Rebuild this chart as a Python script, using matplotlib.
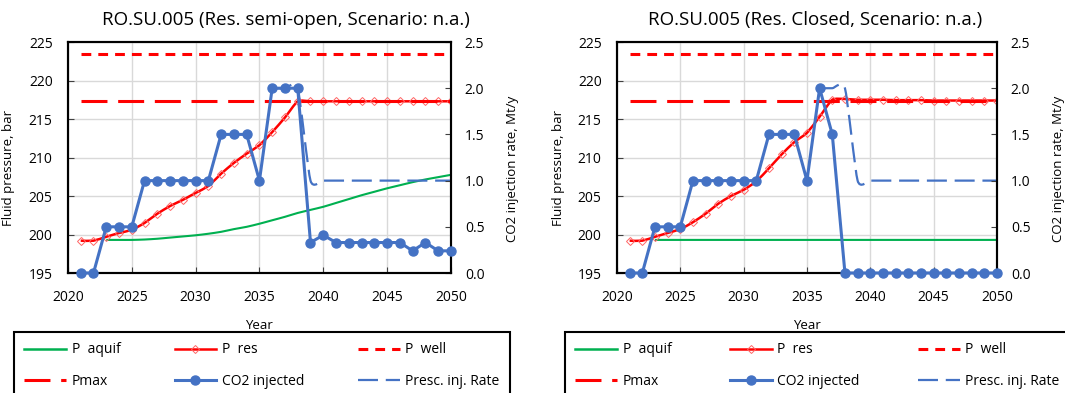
import numpy as np
import matplotlib
matplotlib.use("Agg")
import matplotlib.pyplot as plt
from matplotlib.path import Path
from matplotlib.patches import PathPatch
from matplotlib.lines import Line2D

plt.rcParams['font.family'] = ['Open Sans', 'DejaVu Sans']

# ---- data ----
years = list(range(2021, 2051))
aquif_years = list(range(2023, 2051))
presc_years = list(range(2036, 2051))

p_well = 223.5
p_max = 217.3

# semi-open reservoir
aquif_semi = [199.3, 199.3, 199.3, 199.35, 199.45, 199.6, 199.75, 199.9, 200.1, 200.35,
              200.7, 201.0, 201.4, 201.85, 202.3, 202.8, 203.2, 203.6, 204.1, 204.6,
              205.1, 205.55, 206.0, 206.4, 206.8, 207.15, 207.45, 207.75]
res_semi = [199.2, 199.2, 199.7, 200.2, 200.6, 201.5, 202.7, 203.7, 204.5, 205.4,
            206.3, 207.9, 209.3, 210.5, 211.6, 213.3, 215.2, 217.3, 217.3, 217.3,
            217.3, 217.3, 217.3, 217.3, 217.3, 217.3, 217.3, 217.3, 217.3, 217.3]
inj_semi = [0.0, 0.0, 0.5, 0.5, 0.5, 1.0, 1.0, 1.0, 1.0, 1.0,
            1.0, 1.5, 1.5, 1.5, 1.0, 2.0, 2.0, 2.0, 0.33, 0.41,
            0.33, 0.33, 0.33, 0.33, 0.33, 0.33, 0.24, 0.33, 0.24, 0.24]
presc_semi = [2.0, 2.0, 2.0, 1.0, 1.0, 1.0, 1.0, 1.0, 1.0, 1.0, 1.0, 1.0, 1.0, 1.0, 1.0]

# closed reservoir
aquif_closed = [199.3, 199.3, 199.3, 199.3, 199.3, 199.3, 199.3, 199.3, 199.3, 199.3,
                199.3, 199.3, 199.3, 199.3, 199.3, 199.3, 199.3, 199.3, 199.3, 199.3,
                199.3, 199.3, 199.3, 199.3, 199.3, 199.3, 199.3, 199.3]
res_closed = [199.2, 199.2, 199.7, 200.2, 200.7, 201.6, 202.7, 204.0, 205.0, 205.8,
              206.9, 208.6, 210.4, 212.0, 213.2, 215.3, 217.5, 217.6, 217.5, 217.5,
              217.5, 217.45, 217.45, 217.45, 217.4, 217.4, 217.4, 217.4, 217.4, 217.4]
inj_closed = [0.0, 0.0, 0.5, 0.5, 0.5, 1.0, 1.0, 1.0, 1.0, 1.0,
              1.0, 1.5, 1.5, 1.5, 1.0, 2.0, 1.5, 0.0, 0.0, 0.0,
              0.0, 0.0, 0.0, 0.0, 0.0, 0.0, 0.0, 0.0, 0.0, 0.0]
presc_closed = [2.0, 2.0, 2.0, 1.0, 1.0, 1.0, 1.0, 1.0, 1.0, 1.0, 1.0, 1.0, 1.0, 1.0, 1.0]

GREEN = '#00B050'
RED = '#FF0000'
BLUE = '#4472C4'


def smooth_path(x, y, k=0.1):
    # excel-like smoothed line: cubic bezier through every point
    x = np.asarray(x, float)
    y = np.asarray(y, float)
    n = len(x)
    verts = [(x[0], y[0])]
    codes = [Path.MOVETO]
    for i in range(n - 1):
        i0 = max(i - 1, 0)
        i3 = min(i + 2, n - 1)
        c1 = (x[i] + k * (x[i + 1] - x[i0]), y[i] + k * (y[i + 1] - y[i0]))
        c2 = (x[i + 1] - k * (x[i3] - x[i]), y[i + 1] - k * (y[i3] - y[i]))
        verts += [c1, c2, (x[i + 1], y[i + 1])]
        codes += [Path.CURVE4] * 3
    return Path(verts, codes)


def draw_panel(ax, title, aquif, res, inj, presc, title_x):
    ax2 = ax.twinx()

    ax.add_patch(PathPatch(smooth_path(aquif_years, aquif), fill=False, edgecolor=GREEN, lw=1.5))
    ax.add_patch(PathPatch(smooth_path(years, res), fill=False, edgecolor=RED, lw=1.8))
    ax.plot(years, res, ls='none', marker='D', ms=4.5, mfc='none', mec='#FF6666', mew=0.7)
    ax.plot(years, [p_well] * len(years), color=RED, lw=2.2, dashes=(3.2, 2.3))
    ax.plot(years, [p_max] * len(years), color=RED, lw=2.2, dashes=(8.5, 3.5))

    ax2.add_patch(PathPatch(smooth_path(presc_years, presc), fill=False, edgecolor=BLUE,
                            lw=1.6, linestyle=(0, (9, 3.5))))
    ax2.plot(years, inj, color=BLUE, lw=2.2, marker='o', ms=6.5, clip_on=False, zorder=5)

    ax.set_xlim(2020, 2050)
    ax.set_ylim(195, 225)
    ax2.set_ylim(0, 2.5)
    ax.set_xticks(range(2020, 2051, 5))
    ax.set_yticks(range(195, 226, 5))
    ax2.set_yticks(np.arange(0, 2.51, 0.5))
    ax2.set_yticklabels(['0.0', '0.5', '1.0', '1.5', '2.0', '2.5'])
    ax.grid(True, color='#D9D9D9', lw=1)
    ax.set_axisbelow(True)
    for sp in ax2.spines.values():
        sp.set_linewidth(1.5)
        sp.set_color('black')
    for sp in ax.spines.values():
        sp.set_linewidth(1.5)

    ax.tick_params(axis='both', direction='in', labelsize=10, length=4, color='#404040')
    ax.tick_params(axis='x', pad=12)
    ax.tick_params(axis='y', pad=11)
    ax2.tick_params(axis='y', direction='in', labelsize=10, length=4, pad=10, color='#404040')

    ax.set_xlabel('Year', fontsize=9.5)
    ax.xaxis.set_label_coords(0.5, -0.2)
    ax.set_ylabel('Fluid pressure, bar', fontsize=9.5)
    ax.yaxis.set_label_coords(-0.138, 0.455)
    ax2.set_ylabel('CO2 injection rate, Mt/y', fontsize=9.5)
    ax2.yaxis.set_label_coords(1.145, 0.45)

    fig.text(title_x, 0.949, title, ha='center', va='center', fontsize=13.5)


fig = plt.figure(figsize=(10.65, 3.93), dpi=100)
ax_l = fig.add_axes([0.0638, 0.3053, 0.3596, 0.5878])
ax_r = fig.add_axes([0.5793, 0.3053, 0.3568, 0.5878])

draw_panel(ax_l, 'RO.SU.005 (Res. semi-open, Scenario: n.a.)',
           aquif_semi, res_semi, inj_semi, presc_semi, 0.2685)
draw_panel(ax_r, 'RO.SU.005 (Res. Closed, Scenario: n.a.)',
           aquif_closed, res_closed, inj_closed, presc_closed, 0.765)

handles = [
    Line2D([], [], color=GREEN, lw=1.8),
    Line2D([], [], color=RED, lw=2.2, dashes=(8.5, 3.5)),
    Line2D([], [], color=RED, lw=1.8, marker='D', ms=4.5, mfc='none', mec='#FF6666', mew=0.7),
    Line2D([], [], color=BLUE, lw=2.2, marker='o', ms=6.5),
    Line2D([], [], color=RED, lw=2.2, dashes=(3.2, 2.3)),
    Line2D([], [], color=BLUE, lw=1.6, dashes=(9, 3.5)),
]
labels = ['P  aquif', 'Pmax', 'P  res', 'CO2 injected', 'P  well', 'Presc. inj. Rate']

for x0, w in [(14, 496), (565, 505)]:
    leg = fig.legend(handles, labels, ncol=3, loc='upper left',
                     bbox_to_anchor=(x0 / 1065, 1 - 332 / 393 - 0.01, w / 1065, 0.01),
                     mode='expand', fontsize=10, frameon=True, fancybox=False,
                     edgecolor='black', framealpha=1, borderaxespad=0,
                     handlelength=3.0, handletextpad=0.4, labelspacing=1.2,
                     borderpad=0.75)
    leg.get_frame().set_linewidth(1.5)

fig.savefig('out.png', dpi=100)
